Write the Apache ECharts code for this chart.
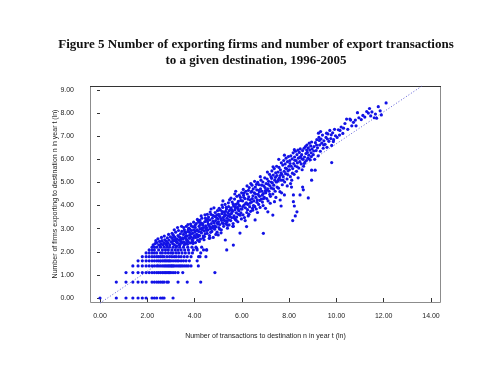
<!DOCTYPE html>
<html>
<head>
<meta charset="utf-8">
<script src="https://cdn.jsdelivr.net/npm/echarts@6/dist/echarts.min.js"></script>
<style>
html,body{margin:0;padding:0;background:#fff;}
#chart{width:489px;height:391px;}
</style>
</head>
<body>
<div id="chart"></div>
<script>
// ---- Data (ln values) ----
const titleLines = ["Figure 5 Number of exporting firms and number of export transactions", "to a given destination, 1996-2005"];
const xAxisName = "Number of transactions to destination n in year t (ln)";
const yAxisName = "Number of firms exporting to destination n in year t (ln)";
const xTicks = [0, 2, 4, 6, 8, 10, 12, 14];
const yTicks = [0, 1, 2, 3, 4, 5, 6, 7, 8, 9];

// Discrete rows at low firm counts: ln(1), ln(2), ... ln(9)
const lowRowFirms = [0, 0.69, 1.10, 1.39, 1.61, 1.79, 1.95, 2.08, 2.20];
const lowRowTransactions = [
  [0, 0.69, 1.10, 1.39, 1.61, 1.79, 1.95, 2.20, 2.30, 2.40, 2.56, 2.64, 2.71, 3.09],
  [0.69, 1.10, 1.39, 1.61, 1.79, 1.95, 2.20, 2.30, 2.40, 2.48, 2.56, 2.64, 2.71, 2.83, 2.89, 3.30, 3.69, 4.26],
  [1.10, 1.39, 1.61, 1.79, 1.95, 2.08, 2.20, 2.30, 2.40, 2.48, 2.56, 2.64, 2.71, 2.77, 2.83, 2.89, 2.94, 3.00, 3.09, 3.18, 3.30, 3.50, 4.86],
  [1.39, 1.61, 1.79, 1.95, 2.08, 2.20, 2.30, 2.40, 2.48, 2.56, 2.64, 2.71, 2.77, 2.83, 2.89, 2.94, 3.00, 3.04, 3.09, 3.14, 3.22, 3.30, 3.37, 3.43, 3.50, 3.58, 3.66, 3.74, 3.85, 4.16],
  [1.61, 1.79, 1.95, 2.08, 2.20, 2.30, 2.40, 2.48, 2.56, 2.64, 2.71, 2.77, 2.83, 2.89, 2.94, 3.00, 3.09, 3.18, 3.26, 3.33, 3.43, 3.53, 3.64, 3.78, 4.11],
  [1.79, 1.95, 2.08, 2.20, 2.30, 2.40, 2.48, 2.56, 2.64, 2.71, 2.83, 2.94, 3.04, 3.14, 3.22, 3.33, 3.43, 3.56, 3.69, 3.85, 4.17, 4.48],
  [1.95, 2.08, 2.20, 2.30, 2.40, 2.56, 2.64, 2.77, 2.89, 3.00, 3.09, 3.22, 3.33, 3.47, 3.61, 3.76, 3.91, 4.26],
  [2.08, 2.20, 2.30, 2.48, 2.64, 2.77, 2.89, 3.04, 3.18, 3.30, 3.43, 3.58, 3.74, 3.95, 4.11, 4.38, 4.51],
  [2.20, 2.30, 2.40, 2.56, 2.71, 2.83, 2.94, 3.09, 3.22, 3.37, 3.53, 3.71, 3.89, 4.06, 4.30]
];

// Main cloud, [ln transactions, ln firms]
const cloudA = [
  [2.25,2.30],[2.33,2.35],[2.40,2.40],[2.48,2.30],[2.52,2.45],[2.58,2.35],[2.62,2.48],[2.66,2.30],[2.70,2.40],[2.74,2.52],[2.78,2.33],[2.81,2.45],[2.85,2.60],[2.88,2.38],[2.92,2.50],[2.95,2.30],[2.98,2.65],[2.45,2.56],[2.60,2.62],[2.36,2.48],[2.72,2.68],[2.90,2.75],[2.55,2.25],[2.83,2.28],
  [3.02,2.42],[3.05,2.58],[3.08,2.35],[3.10,2.72],[3.12,2.48],[3.15,2.30],[3.17,2.62],[3.20,2.85],[3.22,2.45],[3.25,2.55],[3.27,2.38],[3.30,2.70],[3.32,2.92],[3.34,2.50],[3.36,2.32],[3.38,2.62],[3.40,2.78],[3.42,2.45],[3.44,2.55],[3.46,2.88],[3.48,2.40],[3.05,2.80],[3.14,2.95],[3.24,2.25],[3.28,3.05],[3.37,2.28],[3.45,3.10],[3.19,2.52],[3.33,2.66],[3.49,2.60],[3.09,2.50],[3.41,2.36],
  [3.51,2.55],[3.53,2.75],[3.55,2.42],[3.57,2.95],[3.59,2.62],[3.61,2.35],[3.63,2.82],[3.65,3.10],[3.67,2.50],[3.69,2.68],[3.71,2.88],[3.73,2.45],[3.75,3.02],[3.77,2.58],[3.79,2.72],[3.81,2.38],[3.83,3.20],[3.85,2.65],[3.87,2.92],[3.89,2.52],[3.91,2.80],[3.93,3.08],[3.95,2.60],[3.97,2.95],[3.99,2.70],[3.56,2.30],[3.64,2.70],[3.72,3.18],[3.80,2.98],[3.88,2.40],[3.96,3.28],[3.62,2.58],[3.78,2.85],[3.86,3.12],[3.70,2.33],[3.54,3.05],[3.92,2.48],[3.84,2.78]
];
const cloudB = [
  [4.01,2.85],[4.03,3.05],[4.05,2.62],[4.07,3.22],[4.09,2.75],[4.11,2.95],[4.13,2.50],[4.15,3.35],[4.17,2.88],[4.19,3.10],[4.21,2.70],[4.23,3.00],[4.25,2.55],[4.27,3.25],[4.29,2.82],[4.31,3.45],[4.33,2.95],[4.35,3.15],[4.37,2.68],[4.39,3.05],[4.41,2.90],[4.43,3.30],[4.45,2.78],[4.47,3.12],[4.49,2.98],[4.04,2.40],[4.12,3.40],[4.20,2.45],[4.28,3.55],[4.36,2.60],[4.44,3.60],[4.08,2.92],[4.16,2.72],[4.24,3.18],[4.32,3.02],[4.40,2.52],[4.48,3.38],[4.18,3.28],
  [4.51,3.05],[4.53,2.80],[4.55,3.30],[4.57,2.95],[4.59,3.50],[4.61,3.15],[4.63,2.70],[4.65,3.38],[4.67,3.00],[4.69,3.62],[4.71,3.22],[4.73,2.88],[4.75,3.45],[4.77,3.10],[4.79,2.62],[4.81,3.55],[4.83,3.25],[4.85,2.98],[4.87,3.70],[4.89,3.35],[4.91,3.08],[4.93,3.48],[4.95,2.85],[4.97,3.78],[4.99,3.20],[4.54,3.62],[4.62,2.58],[4.70,3.85],[4.78,3.32],[4.86,3.12],[4.94,3.60],[4.58,3.20],[4.66,3.72],[4.74,3.02],[4.82,3.90],[4.90,2.75],[4.98,3.42],
  [5.01,3.30],[5.03,3.05],[5.05,3.55],[5.07,3.18],[5.09,3.80],[5.11,3.42],[5.13,2.95],[5.15,3.65],[5.17,3.25],[5.19,3.92],[5.21,3.48],[5.23,3.10],[5.25,3.72],[5.27,3.35],[5.29,4.05],[5.31,3.58],[5.33,3.20],[5.35,3.85],[5.37,3.45],[5.39,3.02],[5.41,3.68],[5.43,4.12],[5.45,3.38],[5.47,3.78],[5.49,3.52],[5.04,3.88],[5.12,2.82],[5.20,4.20],[5.28,3.62],[5.36,3.28],[5.44,3.95],[5.08,3.50],[5.16,4.02],[5.24,3.38],[5.32,3.75],[5.40,3.15],[5.48,4.25],
  [5.51,3.62],[5.53,3.35],[5.55,3.90],[5.57,3.48],[5.59,4.15],[5.61,3.75],[5.63,3.22],[5.65,3.98],[5.67,3.55],[5.69,4.28],[5.71,3.82],[5.73,3.40],[5.75,4.05],[5.77,3.68],[5.79,4.40],[5.81,3.92],[5.83,3.30],[5.85,4.18],[5.87,3.78],[5.89,4.45],[5.91,3.98],[5.93,3.58],[5.95,4.22],[5.97,3.85],[5.99,4.55],[5.54,4.32],[5.62,3.10],[5.70,4.50],[5.78,3.50],[5.86,3.62],[5.94,4.35],[5.58,3.80],[5.74,4.62],[5.82,4.10],[5.98,3.42]
];
const cloudC = [
  [6.01,3.85],[6.03,4.20],[6.05,3.60],[6.07,4.45],[6.09,4.02],[6.11,3.48],[6.13,4.30],[6.15,3.90],[6.17,4.62],[6.19,4.12],[6.21,3.70],[6.23,4.50],[6.25,4.05],[6.27,3.55],[6.29,4.38],[6.31,4.78],[6.33,3.95],[6.35,4.25],[6.37,3.75],[6.39,4.58],[6.41,4.15],[6.43,4.88],[6.45,3.88],[6.47,4.42],[6.49,4.00],[6.06,4.70],[6.14,3.35],[6.22,4.85],[6.30,3.62],[6.38,4.95],[6.46,3.80],[6.10,4.55],[6.26,4.28],[6.42,4.62],
  [6.51,4.20],[6.53,4.55],[6.55,3.95],[6.57,4.80],[6.59,4.35],[6.61,3.85],[6.63,4.68],[6.65,4.25],[6.67,5.00],[6.69,4.48],[6.71,4.05],[6.73,4.90],[6.75,4.40],[6.77,3.92],[6.79,4.72],[6.81,5.10],[6.83,4.28],[6.85,4.62],[6.87,4.15],[6.89,5.02],[6.91,4.52],[6.93,4.85],[6.95,4.35],[6.97,5.20],[6.99,4.65],[6.54,5.05],[6.66,3.70],[6.78,5.25],[6.90,4.00],[6.62,4.92],[6.74,4.60],[6.86,4.45],
  [7.01,4.55],[7.03,4.95],[7.05,4.30],[7.07,5.15],[7.09,4.72],[7.11,4.20],[7.13,5.05],[7.15,4.62],[7.17,5.35],[7.19,4.85],[7.21,4.40],[7.23,5.25],[7.25,4.75],[7.27,5.50],[7.29,4.98],[7.31,4.50],[7.33,5.32],[7.35,4.88],[7.37,5.60],[7.39,5.10],[7.41,4.62],[7.43,5.42],[7.45,5.02],[7.47,5.70],[7.49,4.80],[7.08,5.45],[7.20,4.10],[7.32,5.68],[7.44,4.35],[7.26,5.18],
  [7.51,5.05],[7.53,5.45],[7.55,4.75],[7.57,5.65],[7.59,5.20],[7.61,4.60],[7.63,5.55],[7.65,5.10],[7.67,5.85],[7.69,5.35],[7.71,4.90],[7.73,5.75],[7.75,5.25],[7.77,5.95],[7.79,5.48],[7.81,5.02],[7.83,5.80],[7.85,5.38],[7.87,6.05],[7.89,5.60],[7.91,5.15],[7.93,5.90],[7.95,5.50],[7.97,6.12],[7.99,5.70],[7.56,6.00],[7.68,4.55],[7.80,6.18],[7.92,4.85],[7.62,5.30]
];
const cloudD = [
  [8.01,5.55],[8.03,5.95],[8.05,5.25],[8.07,6.15],[8.09,5.70],[8.11,5.10],[8.13,6.02],[8.15,5.60],[8.17,6.28],[8.19,5.82],[8.21,5.35],[8.23,6.10],[8.25,5.72],[8.27,6.35],[8.29,5.95],[8.31,5.48],[8.33,6.20],[8.35,5.85],[8.37,6.40],[8.39,6.05],[8.41,5.62],[8.43,6.30],[8.45,5.90],[8.47,6.45],[8.49,6.12],[8.06,4.95],[8.22,6.42],[8.38,5.20],
  [8.51,5.80],[8.53,6.20],[8.55,5.55],[8.57,6.38],[8.59,6.00],[8.61,5.70],[8.63,6.48],[8.65,6.10],[8.67,5.88],[8.69,6.55],[8.71,6.25],[8.73,5.95],[8.75,6.62],[8.77,6.30],[8.79,6.05],[8.81,6.50],[8.83,6.18],[8.85,6.70],[8.87,6.40],[8.89,5.98],[8.91,6.58],[8.93,6.28],[8.95,6.75],[8.97,6.45],
  [9.02,6.20],[9.05,6.55],[9.08,6.00],[9.11,6.72],[9.14,6.38],[9.17,6.85],[9.20,6.50],[9.23,6.15],[9.26,6.95],[9.29,6.62],[9.32,6.35],[9.35,6.88],[9.38,6.70],[9.41,7.05],[9.44,6.48],[9.47,6.80],[9.24,7.13],[9.33,7.20],
  [9.52,6.65],[9.56,6.95],[9.60,6.52],[9.64,7.10],[9.68,6.78],[9.72,7.25],[9.76,6.90],[9.80,6.60],[9.84,7.15],[9.88,6.85],[9.92,7.30],[9.96,7.02],[9.58,7.13],[9.87,6.77],
  [10.03,6.95],[10.08,7.28],[10.13,7.05],[10.15,7.25],[10.20,7.40],[10.27,7.12],[10.30,7.35],[10.36,7.55],[10.43,7.74],[10.48,7.30],
  [10.57,7.74],[10.60,7.70],[10.65,7.45],[10.72,7.60],[10.80,7.70],[10.83,7.45],[10.89,8.02],[10.95,7.80],
  [11.05,7.72],[11.12,7.90],[11.20,7.83],[11.28,8.07],[11.35,8.00],[11.40,8.20],[11.45,7.88],[11.50,8.05],
  [11.60,7.80],[11.65,7.96],[11.70,7.78],[11.77,8.28],[11.90,7.92],[12.10,8.44],[11.85,8.10]
];
const cloudE = [
  [3.13,2.66],[3.26,2.41],[3.58,2.86],[3.68,2.44],[3.74,2.97],[3.82,2.61],[3.94,2.36],[4.02,3.14],[4.14,2.64],[4.22,3.36],[4.26,2.86],[4.34,3.22],[4.42,2.66],[4.46,3.46],[4.52,2.92],[4.56,3.40],[4.64,3.08],[4.68,2.84],[4.76,3.58],[4.84,3.06],[4.88,3.52],[4.96,3.24],[5.02,3.62],[5.06,2.98],[5.14,3.36],[5.18,3.74],[5.22,3.22],[5.26,3.54],[5.34,3.92],[5.38,3.34],[5.42,3.56],[5.46,3.16],[5.52,3.84],[5.56,3.66],[5.64,4.06],[5.68,3.46],[5.72,3.92],[5.76,3.36],[5.84,3.86],[5.88,4.02],[5.96,3.68],
  [6.04,3.96],[6.08,4.36],[6.16,4.08],[6.24,3.82],[6.28,4.66],[6.34,4.10],[6.44,4.30],[6.48,4.72],[6.52,3.98],[6.58,4.50],[6.64,4.14],[6.72,4.66],[6.76,4.22],[6.84,4.88],[6.92,4.30],[6.98,4.78],[7.04,4.66],[7.12,4.92],[7.18,4.48],[7.24,5.02],[7.34,4.72],[7.42,5.22],[7.48,5.30],[7.54,5.12],[7.66,5.42],[7.74,5.10],[7.84,5.62],[7.94,5.34],
  [8.04,5.82],[8.14,5.40],[8.24,5.96],[8.34,5.68],[8.44,6.08],[8.54,6.02],[8.64,5.82],[8.74,6.40],[8.84,6.02],[8.94,6.12],[9.04,6.36],[9.16,6.62],[9.28,6.82],[9.46,6.62],[9.62,6.88],[9.78,7.06]
];
const outliers = [
  [6.91,2.80],[6.20,3.09],[5.64,2.29],[5.36,2.08],[5.30,2.51],[4.51,2.08],[4.23,1.79],[5.00,2.73],[4.65,2.60],[5.92,2.81],[6.56,3.38],[5.64,3.10],[4.09,2.15],
  [8.15,3.35],[8.26,3.55],[8.33,3.73],[8.22,3.98],[8.18,4.17],[8.18,4.46],[8.46,4.46],[8.60,4.68],[8.57,4.80],[8.81,4.33],[8.95,5.10],[8.95,5.53],[9.10,5.53],[9.80,5.86],[8.10,4.80],[7.80,4.46],[7.66,3.98],[7.31,3.59],[7.10,3.73],[7.00,3.88],[7.38,4.17],[7.62,4.24]
];
// Fitted line endpoints (ln transactions, ln firms)
const fitLine = [[0, -0.22], [13.6, 9.16]];

// ---- Build ----
const scatterData = [];
lowRowFirms.forEach((y, i) => lowRowTransactions[i].forEach(x => scatterData.push([x, y])));
[cloudA, cloudB, cloudC, cloudD, cloudE, outliers].forEach(arr => arr.forEach(p => scatterData.push(p)));

const chart = echarts.init(document.getElementById('chart'), null, {renderer: 'canvas'});
const labelFont = {fontFamily: 'Liberation Sans, Arial, sans-serif', fontSize: 7, color: '#222'};
chart.setOption({
  animation: false,
  backgroundColor: '#ffffff',
  title: {
    text: titleLines.join('\n'),
    left: 251, top: 32, textAlign: 'center',
    textStyle: {fontFamily: 'Liberation Serif, Times New Roman, serif', fontWeight: 'bold', fontSize: 13, lineHeight: 16, color: '#111'}
  },
  graphic: [
    {type: 'rect', shape: {x: 90.5, y: 86.5, width: 350, height: 216}, style: {fill: 'none', stroke: '#8c8c8c', lineWidth: 1}, z: 0},
    {type: 'line', shape: {x1: 90, y1: 86.5, x2: 441, y2: 86.5}, style: {stroke: '#333', lineWidth: 1}, z: 1}
  ],
  grid: {left: 100, top: 90, width: 331, height: 208, containLabel: false},
  xAxis: {
    type: 'value', min: xTicks[0], max: xTicks[xTicks.length - 1], interval: 2,
    offset: 5,
    axisLine: {show: false},
    axisTick: {show: true, length: 4, lineStyle: {color: '#333'}},
    splitLine: {show: false},
    axisLabel: Object.assign({margin: 10, formatter: v => v.toFixed(2)}, labelFont),
    name: xAxisName, nameLocation: 'middle', nameGap: 30, nameMoveOverlap: false,
    nameTextStyle: {fontFamily: 'Liberation Sans, Arial, sans-serif', fontSize: 7, color: '#222'}
  },
  yAxis: {
    type: 'value', min: yTicks[0], max: yTicks[yTicks.length - 1], interval: 1,
    offset: 10,
    axisLine: {show: false},
    axisTick: {show: true, length: 3, lineStyle: {color: '#333'}},
    splitLine: {show: false},
    axisLabel: Object.assign({margin: 16, formatter: v => v.toFixed(2)}, labelFont),
    name: yAxisName, nameLocation: 'middle', nameGap: 31, nameMoveOverlap: false,
    nameTextStyle: {fontFamily: 'Liberation Sans, Arial, sans-serif', fontSize: 7, color: '#222'}
  },
  series: [
    {
      type: 'line', data: fitLine, showSymbol: false, clip: false, z: 1,
      lineStyle: {color: '#5a5ad8', width: 1, type: [1, 2]}
    },
    {
      type: 'scatter', data: scatterData, symbol: 'circle', symbolSize: 3.2, clip: false, z: 2,
      itemStyle: {color: '#1212e6', opacity: 1}
    }
  ]
});
</script>
</body>
</html>
